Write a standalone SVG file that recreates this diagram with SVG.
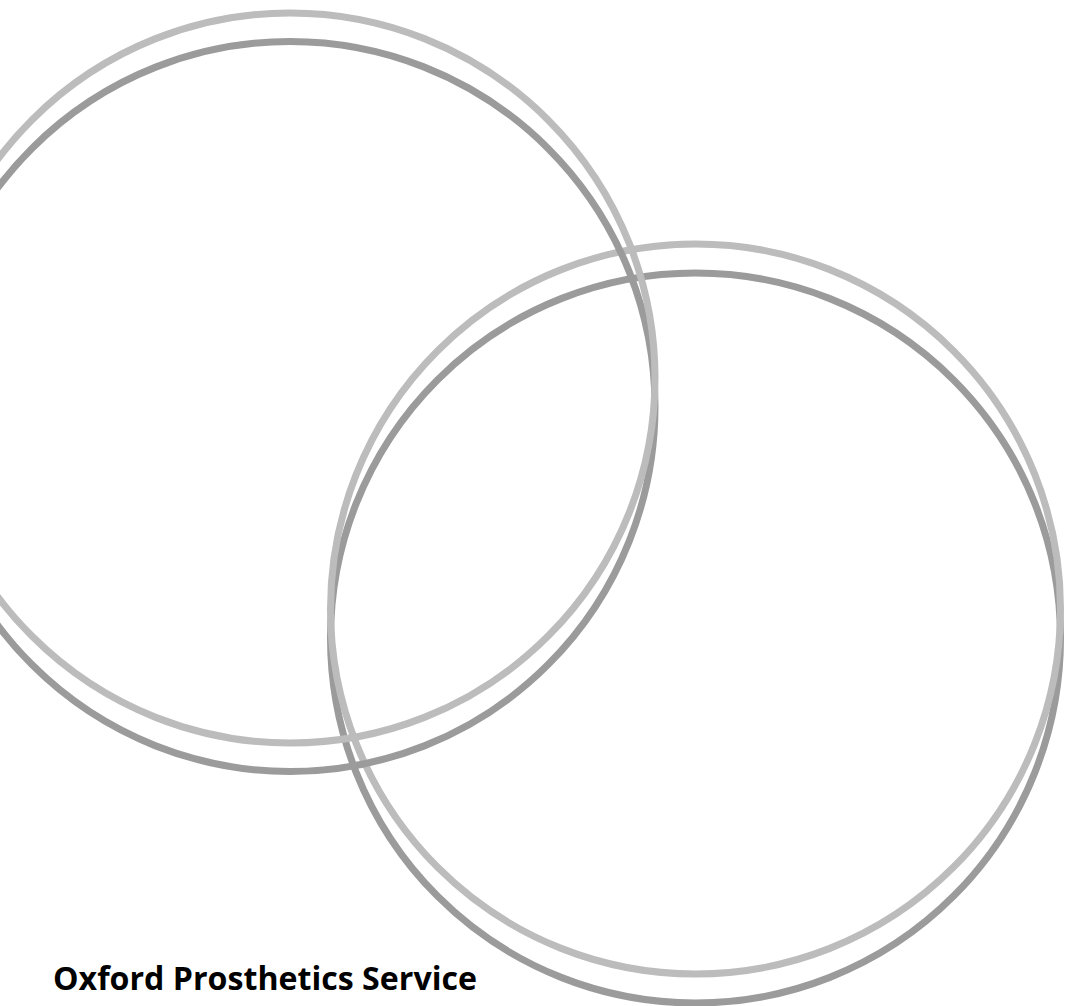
<svg xmlns="http://www.w3.org/2000/svg" width="1067" height="1006" viewBox="0 0 1067 1006">
<style>
.ring{fill:none;stroke-width:7}
.light{stroke:#bcbcbc}
.dark{stroke:#9b9b9b}
.title{font-family:"Open Sans","Noto Sans","Liberation Sans",sans-serif;font-weight:700;font-size:32px;fill:#000}
</style>
<rect width="1067" height="1006" fill="#ffffff"/>
<g id="right-rings">
<circle class="ring dark" cx="695.5" cy="638" r="365"/>
<circle class="ring light" cx="695.5" cy="609" r="365"/>
</g>
<g id="left-rings">
<circle class="ring dark" cx="290" cy="406.5" r="365"/>
<circle class="ring light" cx="290" cy="378" r="365"/>
</g>
<g id="title">
<text class="title" x="53" y="990" textLength="424" lengthAdjust="spacingAndGlyphs">Oxford Prosthetics Service</text>
</g>
</svg>
